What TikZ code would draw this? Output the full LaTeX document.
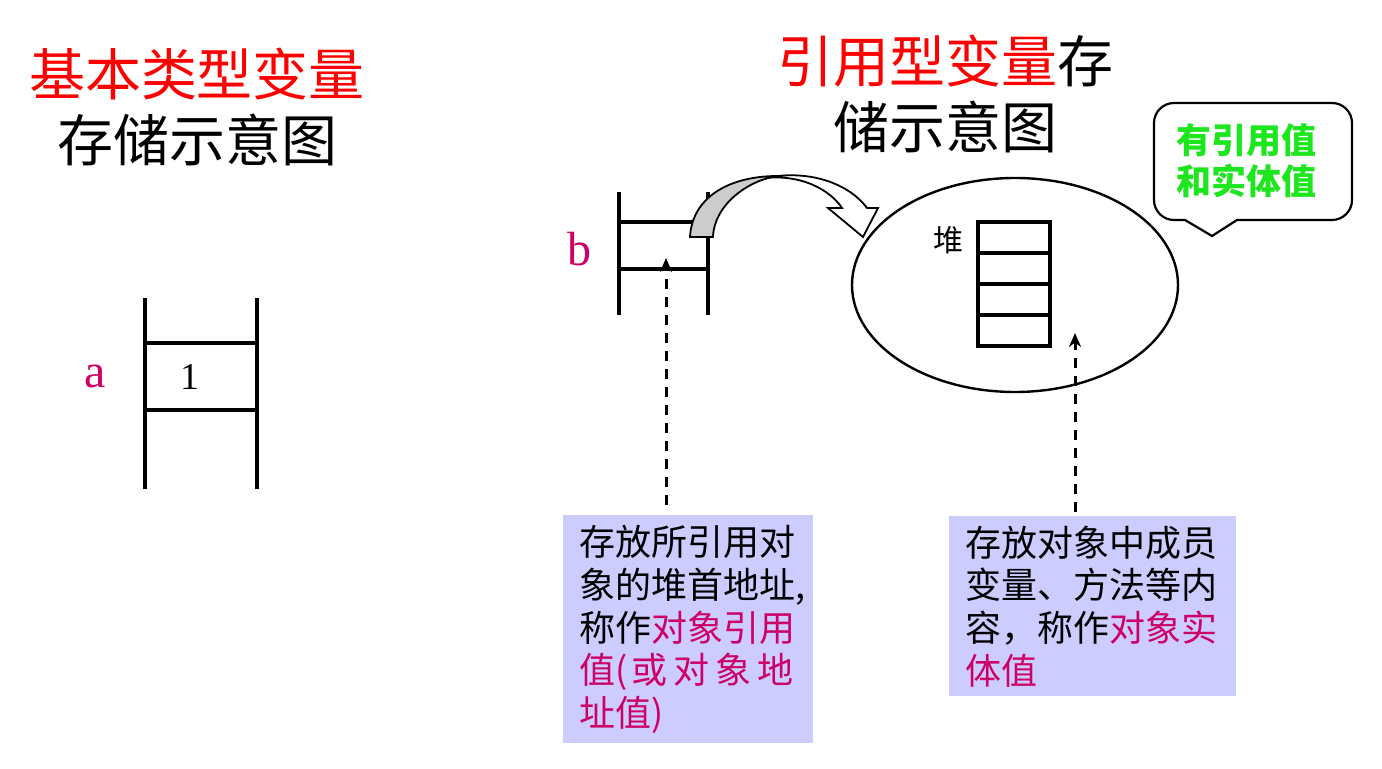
\documentclass[tikz,border=0pt]{standalone}
\usepackage{fontspec}
\usepackage{xcolor}
\setmainfont{Liberation Serif}
\newfontfamily\cjk{Noto Sans CJK SC}
\usetikzlibrary{positioning, arrows.meta, shapes.geometric}
\definecolor{titlered}{RGB}{255, 0, 0}
\definecolor{varpink}{RGB}{204, 0, 102}
\definecolor{notefill}{RGB}{204, 204, 255}
\definecolor{tipgreen}{RGB}{30, 230, 30}
\tikzset{
  title/.style={font=\cjk\fontsize{28}{33}\selectfont, align=center, inner sep=0pt},
  varname/.style={font=\fontsize{24}{24}\selectfont, text=varpink, inner sep=0pt},
  slot/.style={line width=1.6pt},
  memo/.style={
    fill=notefill, anchor=north west, align=left,
    inner xsep=8pt, inner ysep=0pt,
    font=\cjk\fontsize{18}{21.3}\selectfont,
  },
  pointer/.style={line width=1.5pt, dash pattern=on 5pt off 4pt,
    -{Stealth[length=7pt, width=6pt]}},
}
\newcommand{\hl}[1]{\textcolor{varpink}{#1}}

\begin{document}
\begin{tikzpicture}[x=0.5pt, y=-0.5pt]
\useasboundingbox (0,0) rectangle (1382,769);

% Titres
\node[title] (basictitle) at (197,107) {\textcolor{titlered}{基本类型变量}\\存储示意图};
\node[title] (reftitle) at (945,94) {\textcolor{titlered}{引用型变量}存\\储示意图};

% Pile : variable de type de base
\node[varname] (a) at (95,376) {a};
\node[font=\fontsize{19}{19}\selectfont, inner sep=0pt] (aval) at (190,377) {1};
\draw[slot] (145,298) -- (145,489);
\draw[slot] (257,298) -- (257,489);
\draw[slot] (145,343) -- (257,343);
\draw[slot] (145,410) -- (257,410);

% Pile : variable de type référence
\node[varname] (b) at (579,249) {b};
\draw[slot] (619,192) -- (619,315);
\draw[slot] (708,192) -- (708,315);
\draw[slot] (619,222) -- (708,222);
\draw[slot] (619,269) -- (708,269);

% Tas
\node[draw, ellipse, line width=1.2pt, minimum width=163pt, minimum height=107pt] (heap) at (1015,285) {};
\node[font=\cjk\fontsize{15}{15}\selectfont, inner sep=0pt] (heaplabel) at (948,240) {堆};
\foreach \i in {0,...,3}
  \draw[slot] (978,{222+31*\i}) rectangle ++(72,31);

% Flèche courbe de b vers le tas
\filldraw[fill=white, draw=black, line width=0.9pt]
  (757,179) .. controls (800,172) and (830,190) .. (842,208)
  -- (828,208) -- (863,237) -- (878,208) -- (867,208)
  .. controls (850,185) and (815,172) .. (778,176) -- cycle;
\filldraw[fill=black!20, draw=black, line width=0.9pt]
  (690,237) .. controls (692,198) and (728,176) .. (778,176)
  .. controls (748,180) and (714,205) .. (713,237) -- cycle;

% Bulle
\draw[line width=1.1pt, rounded corners=10pt]
  (1185,220) -- (1154,220) -- (1154,103) -- (1352,103) -- (1352,220)
  [rounded corners=0pt] -- (1237,220) -- (1212,236) -- cycle;
\node[font=\cjk\bfseries\fontsize{17.5}{20.5}\selectfont, text=tipgreen, align=center, inner sep=0pt]
  (tip) at (1246,161) {有引用值\\和实体值};

% Notes
\node[memo, text width=109pt, minimum width=125pt, minimum height=114pt] (refnote) at (563,515)
  {存放所引用对\\象的堆首地址,\\称作\hl{对象引用}\\\mbox{\hl{值(\hspace{2pt}或\hspace{3pt}对\hspace{3pt}象\hspace{3pt}地}}\\\hl{址值)}};
\node[memo, text width=127.5pt, minimum width=143.5pt, minimum height=90pt] (objnote) at (949,516)
  {存放对象中成员\\变量、方法等内\\容，称作\hl{对象实}\\\hl{体值}};

\coordinate (refhead) at (666,258);
\coordinate (objhead) at (1075,333);
\draw[pointer] ([yshift=5pt]refnote.north -| refhead) -- (refhead);
\draw[pointer] ([yshift=2pt]objnote.north -| objhead) -- (objhead);

\end{tikzpicture}
\end{document}
